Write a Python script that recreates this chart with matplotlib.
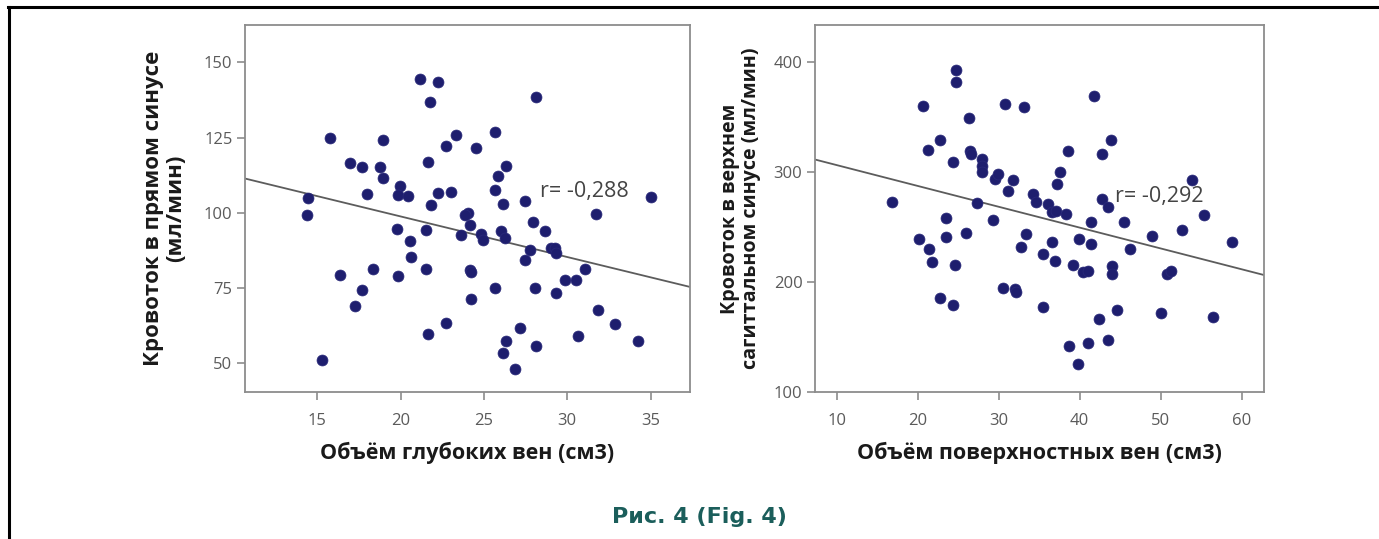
import matplotlib
matplotlib.use("Agg")
import matplotlib.pyplot as plt
from matplotlib.lines import Line2D
import numpy as np

# ---- data: left panel (deep veins volume vs straight sinus flow) ----
deep_volume = [21.16, 22.25, 21.75, 28.15, 15.76, 18.96, 23.35, 25.65, 22.75, 24.55,
               16.96, 17.66, 18.76, 18.96, 21.65, 26.35, 25.85, 14.46, 14.36, 17.96,
               19.96, 19.86, 20.46, 22.25, 23.05, 25.65, 26.15, 27.45, 31.75, 35.04,
               21.85, 24.05, 23.85, 24.15, 19.76, 21.55, 20.56, 23.65, 24.85, 24.95,
               26.05, 26.25, 27.95, 28.65, 27.75, 27.45, 29.05, 29.25, 29.35, 31.05,
               29.85, 30.55, 20.65, 16.36, 18.36, 19.86, 21.55, 24.15, 24.25, 17.66,
               17.26, 24.25, 25.65, 28.05, 29.35, 31.85, 32.84, 22.75, 27.15, 21.65,
               26.35, 28.15, 30.65, 34.24, 26.15, 26.85, 15.26]
straight_flow = [144.4, 143.5, 136.9, 138.5, 125.0, 124.1, 126.0, 126.9, 122.1, 121.7,
                 116.4, 115.3, 115.3, 111.6, 116.9, 115.6, 112.2, 105.0, 99.2, 106.4,
                 108.9, 105.9, 105.6, 106.6, 106.8, 107.5, 102.9, 103.9, 99.6, 105.3,
                 102.5, 99.8, 99.2, 95.9, 94.8, 94.2, 90.6, 92.6, 93.1, 90.9,
                 94.0, 91.8, 97.0, 94.0, 87.6, 84.3, 88.4, 88.2, 86.7, 81.5,
                 77.6, 77.6, 85.4, 79.3, 81.5, 79.1, 81.5, 81.0, 80.4, 74.5,
                 69.1, 71.3, 75.2, 75.2, 73.4, 67.9, 63.0, 63.5, 61.6, 59.6,
                 57.5, 55.7, 59.0, 57.4, 53.3, 48.1, 51.1]
left_fit = (125.8, -1.349)   # intercept, slope of the drawn fit line
left_r = "r= -0,288"

# ---- data: right panel (superficial veins volume vs superior sagittal sinus flow) ----
surf_volume = [24.69, 24.77, 20.70, 30.78, 33.17, 41.81, 26.34, 22.76, 21.23, 24.32,
               26.46, 26.54, 27.98, 27.90, 27.98, 29.55, 29.96, 31.81, 31.19, 38.60,
               37.57, 37.24, 42.72, 43.83, 34.20, 34.61, 36.13, 36.54, 37.08, 38.27,
               27.28, 16.79, 42.72, 43.54, 41.36, 45.51, 53.83, 55.35, 58.77, 52.59,
               48.89, 46.21, 29.34, 23.46, 25.93, 23.50, 20.16, 21.40, 21.81, 24.61,
               33.33, 32.72, 36.54, 39.96, 41.36, 35.43, 36.95, 39.13, 40.45, 41.07,
               43.95, 44.03, 50.74, 51.23, 30.49, 32.02, 32.14, 22.80, 24.32, 35.51,
               44.57, 42.43, 50.04, 56.50, 38.64, 41.07, 43.46, 39.84]
sagittal_flow = [393.3, 381.8, 360.6, 362.1, 359.1, 369.1, 349.4, 329.7, 320.6, 309.4,
                 319.7, 316.7, 312.1, 305.5, 300.0, 293.9, 297.9, 293.3, 282.7, 319.7,
                 300.3, 288.8, 316.1, 329.7, 279.7, 272.7, 270.6, 263.6, 264.5, 261.5,
                 271.5, 273.0, 275.2, 268.5, 254.8, 254.5, 293.3, 260.9, 236.7, 247.3,
                 241.8, 230.3, 256.4, 257.9, 244.8, 240.6, 239.4, 230.3, 218.2, 215.2,
                 244.2, 232.1, 236.4, 238.8, 234.8, 225.2, 219.4, 215.5, 209.4, 210.0,
                 214.5, 207.0, 207.0, 210.0, 194.8, 193.3, 190.9, 185.8, 178.8, 177.6,
                 174.5, 166.7, 171.5, 168.2, 141.8, 144.8, 147.3, 125.2]
right_fit = (325.4, -1.896)
right_r = "r= -0,292"

left_xticks = [15, 20, 25, 30, 35]
left_yticks = [50, 75, 100, 125, 150]
right_xticks = [10, 20, 30, 40, 50, 60]
right_yticks = [100, 200, 300, 400]

left_xlabel = "Объём глубоких вен (см3)"
left_ylabel = "Кровоток в прямом синусе\n(мл/мин)"
right_xlabel = "Объём поверхностных вен (см3)"
right_ylabel = "Кровоток в верхнем\nсагиттальном синусе (мл/мин)"
caption = "Рис. 4 (Fig. 4)"

# ---- styling ----
FONT = ["Open Sans", "DejaVu Sans"]
plt.rcParams["font.family"] = FONT
DOT = "#1e1e6e"
SPINE = "#8c8c8c"
TICKC = "#5a5a5a"
LINEC = "#5c5c5c"

fig = plt.figure(figsize=(13.79, 5.39), dpi=100)

def panel(rect, x, y, fit, rtxt, rpos, xlim, ylim, xt, yt, xl, yl, ylpad, ylsize):
    ax = fig.add_axes(rect)
    ax.scatter(x, y, s=62, color=DOT, edgecolors="#2a2a7a", linewidths=0.5, zorder=3)
    xs = np.array(xlim)
    ax.plot(xs, fit[0] + fit[1] * xs, color=LINEC, lw=1.3, zorder=2)
    ax.text(rpos[0], rpos[1], rtxt, fontsize=15.5, color="#444444", va="center", ha="left", zorder=4)
    ax.set_xlim(*xlim)
    ax.set_ylim(*ylim)
    ax.set_xticks(xt)
    ax.set_yticks(yt)
    for s in ax.spines.values():
        s.set_color(SPINE)
        s.set_linewidth(1.3)
    ax.tick_params(direction="out", length=6, width=1.2, color=SPINE,
                   labelcolor=TICKC, labelsize=12)
    ax.tick_params(axis="x", pad=9)
    ax.tick_params(axis="y", pad=3)
    ax.set_xlabel(xl, fontsize=15.5, fontweight="bold", color="#1a1a1a", labelpad=9)
    ax.set_ylabel(yl, fontsize=ylsize, fontweight="bold", color="#1a1a1a", labelpad=ylpad,
                  linespacing=1.05)
    return ax

panel([245/1379, 1-392/539, 445/1379, 367/539], deep_volume, straight_flow,
      left_fit, left_r, (28.35, 107.2), (10.67, 37.36), (40.5, 162.4),
      left_xticks, left_yticks, left_xlabel, left_ylabel, 13, 16)

panel([815/1379, 1-392/539, 449/1379, 367/539], surf_volume, sagittal_flow,
      right_fit, right_r, (44.3, 278.2), (7.32, 62.75), (100, 433.9),
      right_xticks, right_yticks, right_xlabel, right_ylabel, 9, 14.2)

fig.text(699/1379, 1-517/539, caption, fontsize=16, fontweight="bold",
         color="#1b5e5b", ha="center", va="center", family=["DejaVu Sans"])

# frame lines (top and left)
fig.add_artist(Line2D([8/1379, 1], [1-6.5/539, 1-6.5/539], color="black", lw=2.2,
                      transform=fig.transFigure))
fig.add_artist(Line2D([8.5/1379, 8.5/1379], [0, 1-6.5/539], color="black", lw=2.2,
                      transform=fig.transFigure))

fig.savefig("out.png", dpi=100)
